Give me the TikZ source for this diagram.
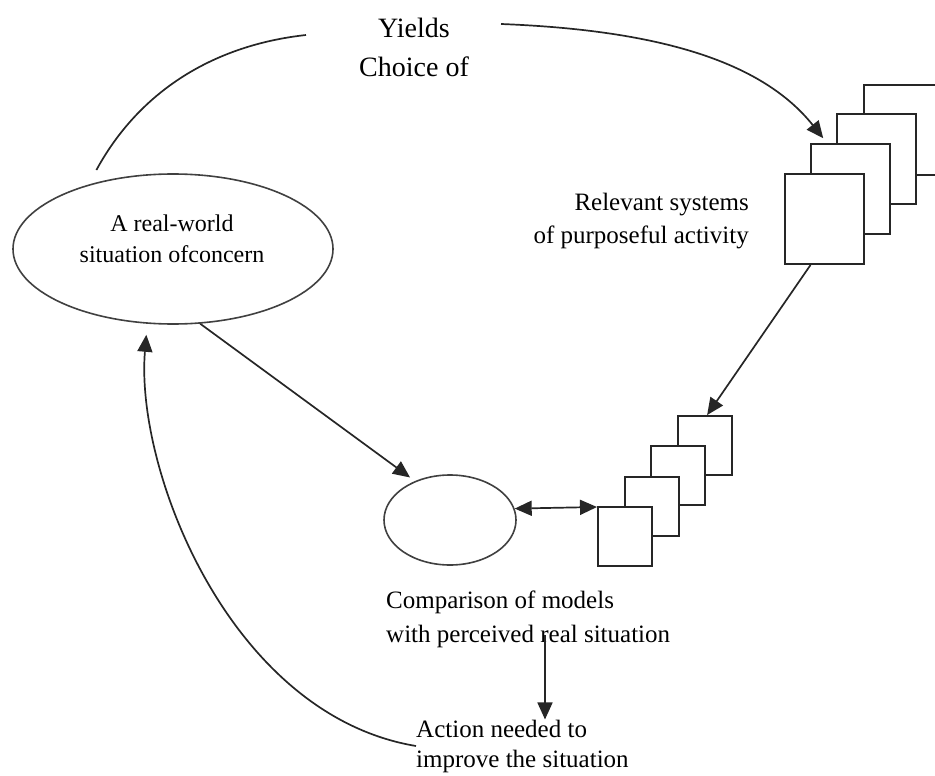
\documentclass[tikz,border=0pt]{standalone}
\usepackage{fontspec}
\setmainfont{Liberation Serif}
\usetikzlibrary{arrows.meta,shapes.geometric}
\tikzset{>={Triangle[length=17pt,width=15pt]}}
\tikzset{
  conn/.style={line width=1.7pt,draw=black!85},
  oval/.style={ellipse,draw=black!75,line width=1.6pt,inner sep=0pt},
  sheet/.style={draw=black!85,fill=white,line width=2pt,inner sep=0pt},
  bigsheet/.style={sheet,minimum width=79pt,minimum height=90pt},
  smallsheet/.style={sheet,minimum width=54pt,minimum height=59pt},
  txt/.style={inner sep=0pt,font=\fontsize{25}{34}\selectfont},
}

\begin{document}
\begin{tikzpicture}[x=1pt,y=-1pt]
  \useasboundingbox (0,0) rectangle (935,776);
  \clip (0,0) rectangle (935,776);
  \node[oval,minimum width=320pt,minimum height=150pt] (real) at (173,249) {};
  \node[txt,align=center,font=\fontsize{24}{31}\selectfont] (realtxt) at (172,239) {A real-world\\situation ofconcern};
  \node[txt,align=center,font=\fontsize{28}{39}\selectfont] (yields) at (414,47) {Yields\\Choice of};
  \node[txt,align=right,anchor=east,font=\fontsize{25}{33}\selectfont] (relsys) at (749,221) {Relevant systems\\of purposeful activity};
  \node[oval,minimum width=132pt,minimum height=90pt] (cmp) at (450,520) {};
  \node[txt,align=left,anchor=west] (cmptxt) at (386,619) {Comparison of models\\with perceived real situation};
  \node[txt,align=left,anchor=west,font=\fontsize{25}{30}\selectfont] (act) at (416,746) {Action needed to\\improve the situation};
  \foreach \i in {3,2,1,0} { \node[bigsheet] (big\i) at ({824.5+26.2*\i},{219-29.8*\i}) {}; }
  \foreach \i in {3,2,1,0} { \node[smallsheet] (sm\i) at ({625+26.7*\i},{536.5-30.3*\i}) {}; }
  \coordinate (dn) at (545,635);

  \draw[conn] ([xshift=-10pt,yshift=10pt]real.134) .. controls (140,90) and (215,45) .. ([xshift=-53pt,yshift=12pt]yields.west);
  \draw[conn,->] ([xshift=32pt,yshift=23pt]yields.east) .. controls (655,30) and (761,60) .. ([xshift=13pt,yshift=5pt]big1.north west);
  \draw[conn,->] ([xshift=-14pt]big0.south) -- ([xshift=2pt]sm3.north);
  \draw[conn,->,shorten >=6pt] (real.-70) -- (cmp.132);
  \draw[conn,<->] (cmp.10) -- ([yshift=-1pt]sm0.north west);
  \draw[conn,->] (dn) -- (dn |- act.north);
  \draw[conn,->,shorten >=11pt] (act.west) .. controls (230,715) and (135,470) .. (real.-109);
\end{tikzpicture}
\end{document}
